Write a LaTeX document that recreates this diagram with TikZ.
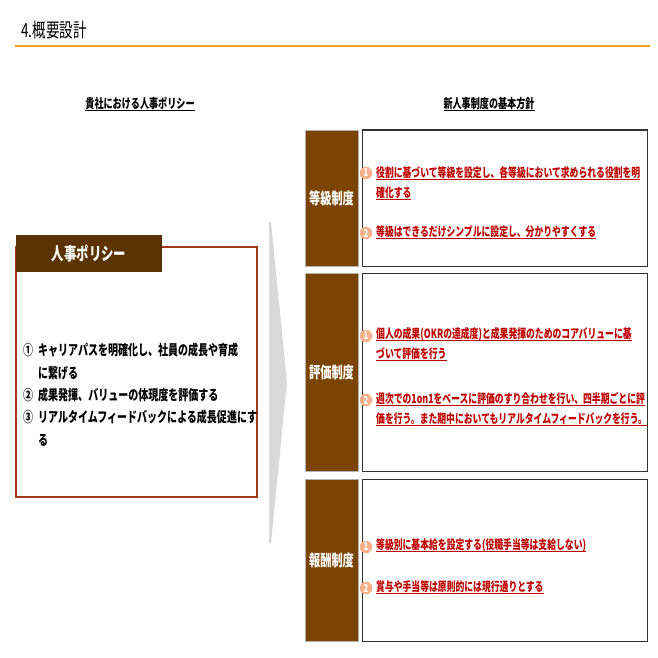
\documentclass[tikz,border=0pt]{standalone}
\usepackage{fontspec}
\newfontfamily\jp[FakeStretch=0.7]{Noto Sans CJK JP}
\definecolor{ttlorange}{HTML}{F9A21B}
\definecolor{tabbrown}{HTML}{5A3300}
\definecolor{lblbrown}{HTML}{7B4400}
\definecolor{polred}{HTML}{A33A1E}
\definecolor{itemred}{HTML}{C00000}
\definecolor{peach}{HTML}{F7B08A}
\definecolor{arrowgray}{HTML}{D9D9D9}

% underline drawn as a rule below the text
\newcommand\ulin[1]{\setbox0=\hbox{#1}\leavevmode\rlap{\copy0}\rule[-2.6pt]{\wd0}{0.9pt}}

\tikzset{
  head/.style={font=\jp\bfseries\fontsize{13}{15}\selectfont, inner sep=0},
  polbox/.style={draw=polred, line width=1.5pt, fill=white, minimum width=241pt, minimum height=250pt},
  tabbox/.style={fill=tabbrown, text=white, inner sep=0, minimum width=146pt, minimum height=37pt,
    font=\jp\bfseries\fontsize{17.7}{20}\selectfont},
  lbl/.style={fill=lblbrown, draw=gray!60, line width=0.8pt, text=white, inner sep=0, minimum width=53pt,
    font=\jp\bfseries\fontsize{16}{18}\selectfont},
  cont/.style={fill=white, draw=black!80, line width=1pt, minimum width=285pt},
  badge/.style={circle, fill=peach, text=white, inner sep=0, minimum size=12.5pt,
    font=\jp\bfseries\fontsize{11}{11}\selectfont},
  item/.style={anchor=west, align=left, text=itemred, inner sep=0,
    font=\jp\bfseries\fontsize{12.6}{20}\selectfont}
}

\begin{document}
\begin{tikzpicture}[x=1pt, y=-1pt]
\useasboundingbox (0,0) rectangle (658,658);

% Title and rule
\node[anchor=west, inner sep=0, font=\jp\fontsize{19.4}{22}\selectfont] (title) at (21,30) {4.概要設計};
\coordinate (ruleL) at (15,46);
\coordinate (ruleR) at (650,46);
\draw[ttlorange, line width=1.5pt] (ruleL) -- (ruleR);

% Column headings
\node[head] (hpol) at (140,104) {\ulin{貴社における人事ポリシー}};
\node[head] (hnew) at (489,104) {\ulin{新人事制度の基本方針}};

% Left: policy box
\node[polbox] (pol) at (136.5,372) {};
\node[tabbox] (tab) at (89,253.5) {人事ポリシー};
\node[anchor=west, inner sep=0, font=\jp\bfseries\fontsize{14.3}{22.4}\selectfont] (poltext) at (23,396) {%
  \begin{tabular}{@{}l@{\hspace{5pt}}l@{}}
  ① & キャリアパスを明確化し、社員の成長や育成\\
    & に繋げる\\
  ② & 成果発揮、バリューの体現度を評価する\\
  ③ & リアルタイムフィードバックによる成長促進にす\\
    & る
  \end{tabular}};

% Arrow
\fill[arrowgray] (269,222) -- (271,222) -- (287,382) -- (271,543) -- (269,543) -- cycle;

% Row 1: grade
\node[lbl, minimum height=136pt] (lblA) at (331.5,198) {等級制度};
\node[cont, minimum height=136pt] (boxA) at (504.5,198) {};
\node[badge] (nA1) at (366,173) {1};
\node[item] (tA1) at (376,183) {\ulin{役割に基づいて等級を設定し、各等級において求められる役割を明}\\\ulin{確化する}};
\node[badge] (nA2) at (366,233) {2};
\node[item] (tA2) at (376,232) {\ulin{等級はできるだけシンプルに設定し、分かりやすくする}};

% Row 2: evaluation
\node[lbl, minimum height=198pt] (lblB) at (331.5,372) {評価制度};
\node[cont, minimum height=198pt] (boxB) at (504.5,372) {};
\node[badge] (nB1) at (366,336) {1};
\node[item] (tB1) at (376,344) {\ulin{個人の成果(OKRの達成度)と成果発揮のためのコアバリューに基}\\\ulin{づいて評価を行う}};
\node[badge] (nB2) at (366,400) {2};
\node[item] (tB2) at (376,409) {\ulin{週次での1on1をベースに評価のすり合わせを行い、四半期ごとに評}\\\ulin{価を行う。また期中においてもリアルタイムフィードバックを行う。}};

% Row 3: pay
\node[lbl, minimum height=162pt] (lblC) at (331.5,560) {報酬制度};
\node[cont, minimum height=162pt] (boxC) at (504.5,560) {};
\node[badge] (nC1) at (366,547) {1};
\node[item] (tC1) at (376,545) {\ulin{等級別に基本給を設定する(役職手当等は支給しない)}};
\node[badge] (nC2) at (366,588) {2};
\node[item] (tC2) at (376,587) {\ulin{賞与や手当等は原則的には現行通りとする}};

\end{tikzpicture}
\end{document}
